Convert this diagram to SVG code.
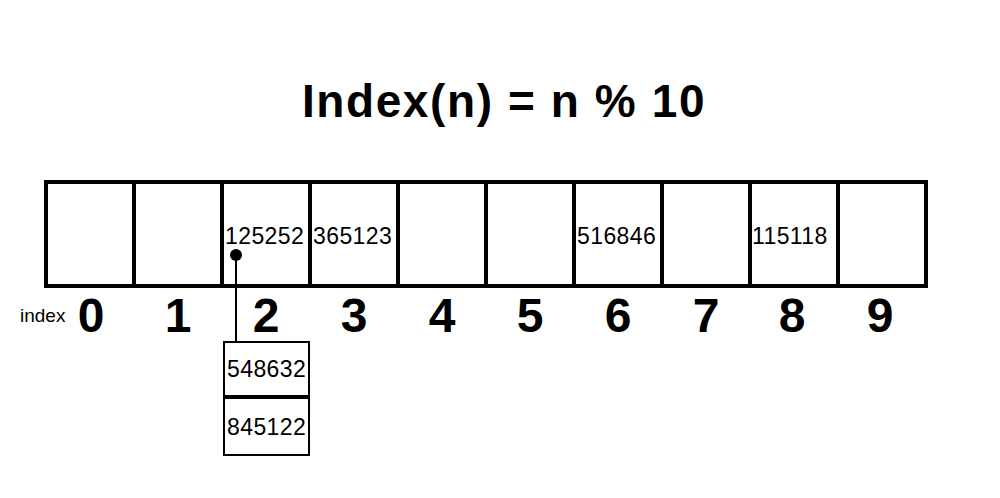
<svg xmlns="http://www.w3.org/2000/svg" width="1000" height="498" viewBox="0 0 1000 498">
<style>
.cell{fill:#fff;stroke:#000;stroke-width:4}
.val{font-family:"Liberation Sans",Arial,sans-serif;font-size:23px;letter-spacing:0.4px;fill:#000}
.idx{font-family:"Liberation Sans",Arial,sans-serif;font-size:48px;font-weight:bold;fill:#000;text-anchor:middle}
.title{font-family:"Liberation Sans",Arial,sans-serif;font-size:46px;font-weight:bold;letter-spacing:1.6px;fill:#000;text-anchor:middle}
.box{fill:#fff;stroke:#000;stroke-width:2}
</style>
<rect width="1000" height="498" fill="#fff"/>
<text class="title" x="504" y="117">Index(n) = n % 10</text>
<g id="table">
<rect class="cell" x="46" y="182" width="88" height="104"/>
<rect class="cell" x="134" y="182" width="88" height="104"/>
<rect class="cell" x="222" y="182" width="88" height="104"/>
<rect class="cell" x="310" y="182" width="88" height="104"/>
<rect class="cell" x="398" y="182" width="88" height="104"/>
<rect class="cell" x="486" y="182" width="88" height="104"/>
<rect class="cell" x="574" y="182" width="88" height="104"/>
<rect class="cell" x="662" y="182" width="88" height="104"/>
<rect class="cell" x="750" y="182" width="88" height="104"/>
<rect class="cell" x="838" y="182" width="88" height="104"/>
</g>
<g id="values">
<text class="val" x="225" y="244">125252</text>
<text class="val" x="313" y="244">365123</text>
<text class="val" x="577" y="244">516846</text>
<text class="val" x="752" y="244">115118</text>
</g>
<g id="indices">
<text x="20" y="322" font-family="Liberation Sans,Arial,sans-serif" font-size="19" fill="#000">index</text>
<text class="idx" x="91" y="332">0</text>
<text class="idx" x="178" y="332">1</text>
<text class="idx" x="266" y="332">2</text>
<text class="idx" x="354" y="332">3</text>
<text class="idx" x="442" y="332">4</text>
<text class="idx" x="530" y="332">5</text>
<text class="idx" x="618" y="332">6</text>
<text class="idx" x="706" y="332">7</text>
<text class="idx" x="792" y="332">8</text>
<text class="idx" x="880" y="332">9</text>
</g>
<g id="connectors">
<line x1="236" y1="255" x2="236" y2="342" stroke="#000" stroke-width="2"/>
<circle cx="236" cy="255" r="6" fill="#000"/>
</g>
<g id="chain1">
<rect class="box" x="224" y="342" width="85" height="55"/>
<text class="val" x="227" y="377">548632</text>
</g>
<g id="chain2">
<rect class="box" x="224" y="397" width="85" height="58"/>
<line x1="224" y1="397" x2="309" y2="397" stroke="#000" stroke-width="4"/>
<text class="val" x="227" y="435">845122</text>
</g>
</svg>
